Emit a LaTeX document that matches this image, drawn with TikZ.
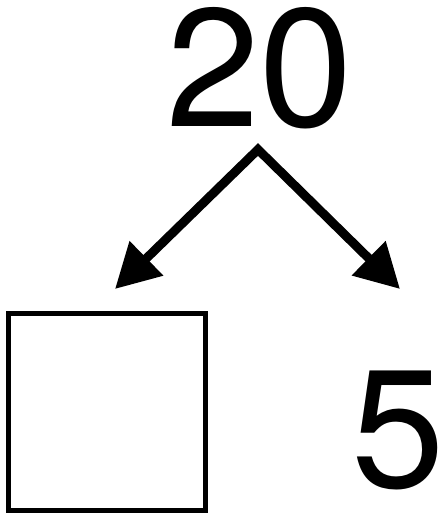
\documentclass[tikz,border=0pt]{standalone}
\usepackage{fontspec}
\setmainfont{TeX Gyre Heros}
\usetikzlibrary{arrows.meta,positioning}

\begin{document}
\begin{tikzpicture}[
  x=1pt,y=-1pt,
  numlabel/.style={font=\fontsize{168}{168}\selectfont, inner sep=0pt},
  blankbox/.style={draw=black, line width=5pt, minimum size=197pt, inner sep=0pt},
  splitarrow/.style={{Triangle[length=44pt,width=46pt]}-{Triangle[length=44pt,width=46pt]}, line width=9pt, line join=miter}
]
  \useasboundingbox (0,0) rectangle (445,515);

  \node[numlabel] (whole) at (259.5,68) {20};
  \node[blankbox] (part1) at (107,411.5) {};
  \node[numlabel] (part2) at (398.5,430) {5};

  \coordinate (split) at (258,149.5);
  \coordinate (tip1) at (115,289);
  \coordinate (tip2) at (400,289);

  \draw[splitarrow] (tip1) -- (split) -- (tip2);
\end{tikzpicture}
\end{document}
